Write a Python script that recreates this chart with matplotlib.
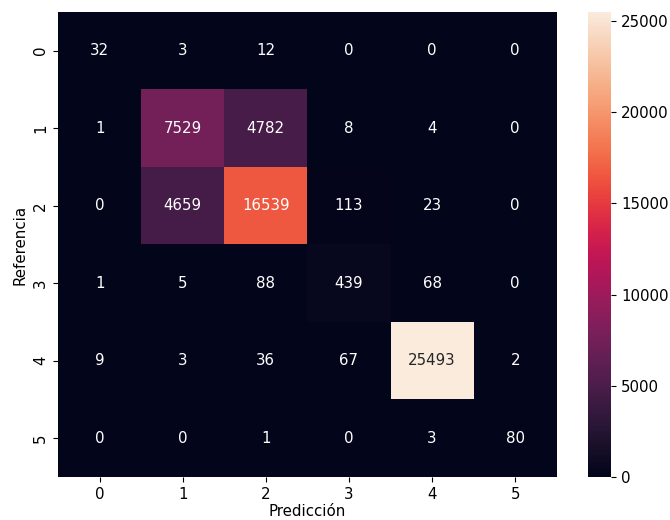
import numpy as np
import matplotlib
matplotlib.use("Agg")
import matplotlib.pyplot as plt
import seaborn as sns

labels = [0, 1, 2, 3, 4, 5]
row_0 = [32, 3, 12, 0, 0, 0]
row_1 = [1, 7529, 4782, 8, 4, 0]
row_2 = [0, 4659, 16539, 113, 23, 0]
row_3 = [1, 5, 88, 439, 68, 0]
row_4 = [9, 3, 36, 67, 25493, 2]
row_5 = [0, 0, 1, 0, 3, 80]

cm = np.array([row_0, row_1, row_2, row_3, row_4, row_5])

plt.rcParams["font.size"] = 10.8
plt.rcParams["xtick.major.size"] = 3.8
plt.rcParams["ytick.major.size"] = 3.8

fig = plt.figure(figsize=(6.7, 5.2), dpi=100)
ax = fig.add_axes([0.0866, 0.0827, 0.7444, 0.8943])
cax = fig.add_axes([0.8776, 0.0827, 0.0344, 0.8943])

sns.heatmap(cm, annot=True, fmt="d", cmap="rocket", ax=ax, cbar_ax=cax,
            xticklabels=labels, yticklabels=labels)
ax.set_xlabel("Predicción", labelpad=1.5)
ax.set_ylabel("Referencia")

fig.savefig("out.png", dpi=100)
